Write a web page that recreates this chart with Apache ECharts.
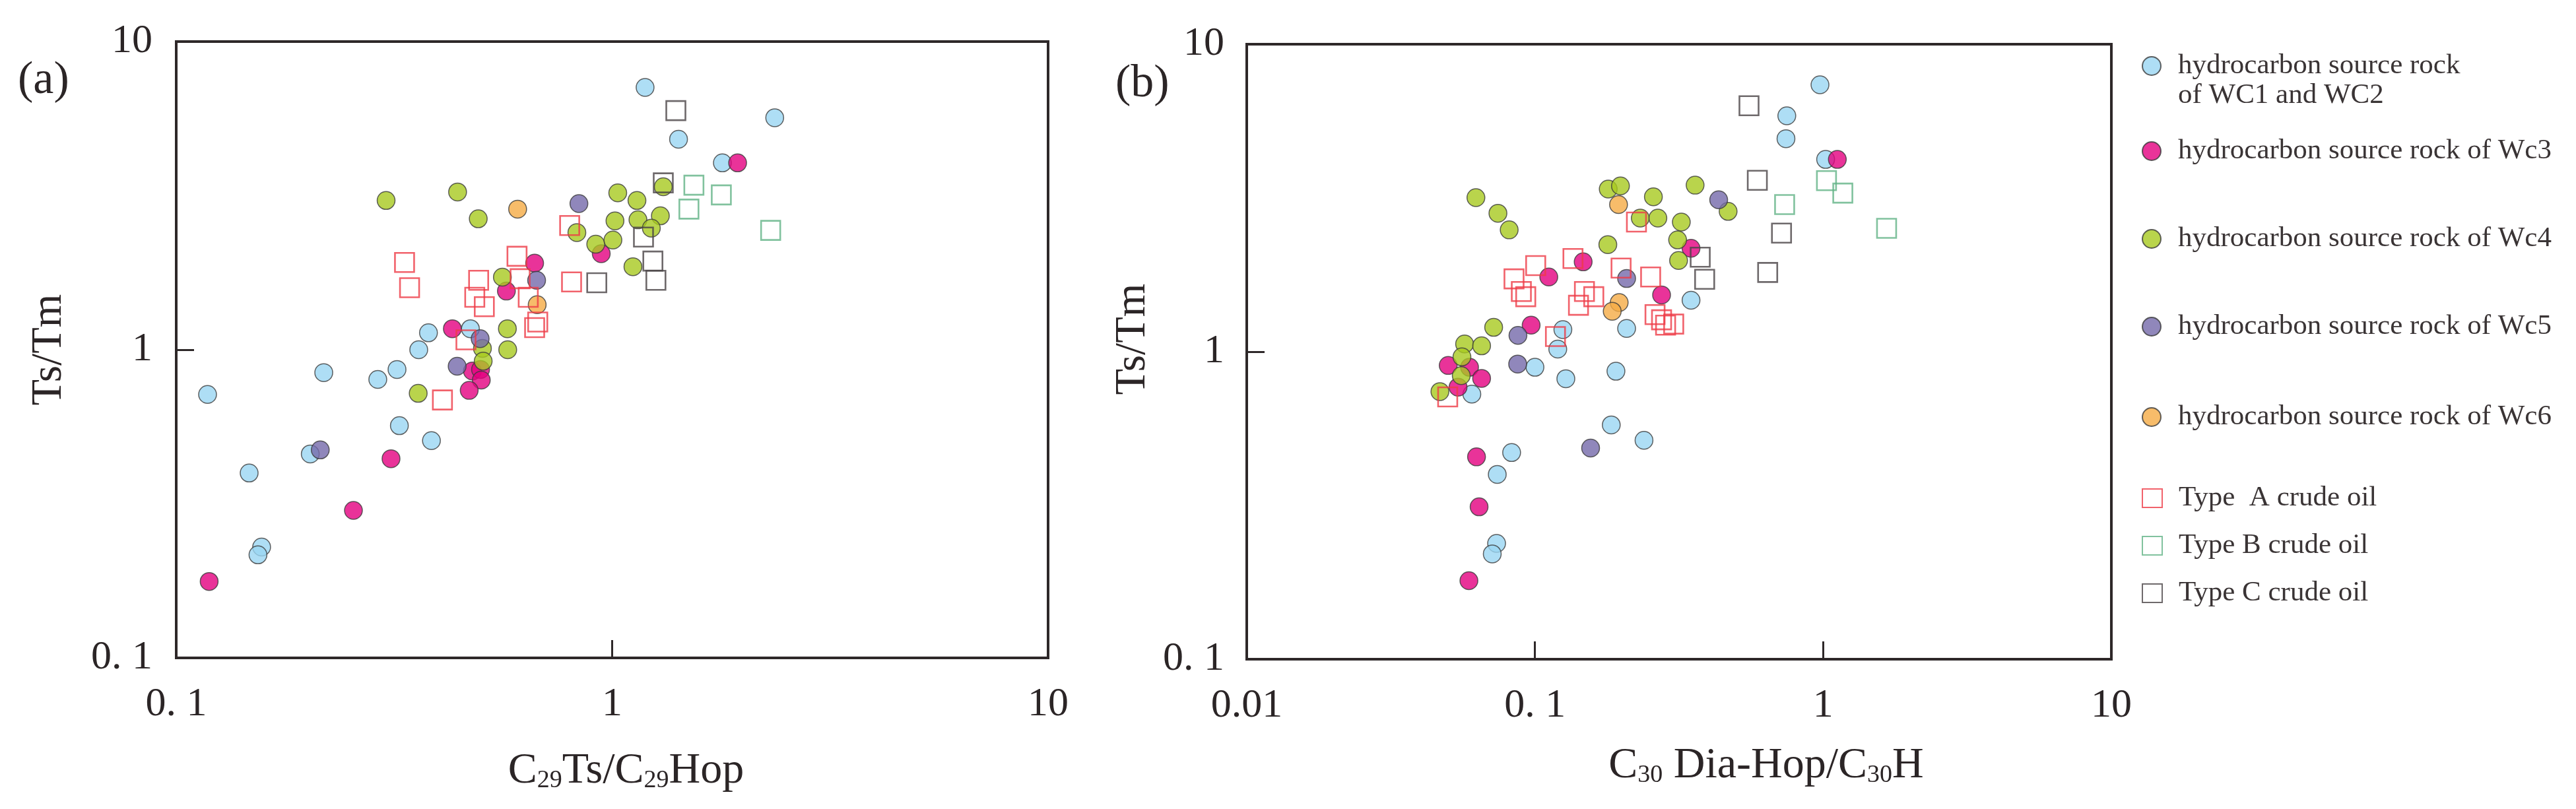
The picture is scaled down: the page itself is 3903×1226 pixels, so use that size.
<!DOCTYPE html>
<html>
<head>
<meta charset="utf-8">
<script src="https://cdn.jsdelivr.net/npm/echarts@6/dist/echarts.min.js"></script>
<style>
html, body { margin: 0; padding: 0; background: #fff; }
#main { width: 3903px; height: 1226px; }
</style>
</head>
<body>
<div id="main"></div>
<script>
// tick labels (as printed in the figure)
var ticksAx = ['0. 1', '1', '10'];
var ticksAy = ['0. 1', '1', '10'];
var ticksBx = ['0.01', '0. 1', '1', '10'];
var ticksBy = ['0. 1', '1', '10'];

var groupNames = [
    'hydrocarbon source rock of WC1 and WC2',
    'hydrocarbon source rock of Wc3',
    'hydrocarbon source rock of Wc4',
    'hydrocarbon source rock of Wc5',
    'hydrocarbon source rock of Wc6',
    'Type  A crude oil',
    'Type B crude oil',
    'Type C crude oil'
];

// (a) C29Ts/C29Hop vs Ts/Tm
var aWc12 = [[1.19, 7.1], [2.36, 5.66], [1.42, 4.82], [1.79, 4.04], [0.379, 1.135], [0.360, 1.0], [0.473, 1.17],
    [0.218, 0.843], [0.321, 0.863], [0.290, 0.801], [0.118, 0.716], [0.325, 0.567], [0.385, 0.507],
    [0.203, 0.459], [0.147, 0.398], [0.157, 0.229], [0.154, 0.216]];
var aWc3 = [[1.94, 4.04], [0.664, 1.91], [0.944, 2.05], [0.572, 1.55], [0.430, 1.17], [0.478, 0.853],
    [0.499, 0.863], [0.501, 0.797], [0.470, 0.738], [0.311, 0.443], [0.255, 0.301], [0.119, 0.177]];
var aWc4 = [[0.303, 3.05], [0.442, 3.25], [0.493, 2.66], [1.03, 3.23], [1.14, 3.05], [1.31, 3.38], [1.015, 2.62],
    [1.146, 2.64], [1.29, 2.72], [1.23, 2.48], [0.830, 2.40], [0.917, 2.20], [1.004, 2.27], [1.116, 1.86],
    [0.560, 1.72], [0.575, 1.17], [0.576, 1.0], [0.504, 1.01], [0.506, 0.918], [0.359, 0.722]];
var aWc5 = [[0.839, 2.98], [0.671, 1.68], [0.498, 1.086], [0.441, 0.884], [0.214, 0.473]];
var aWc6 = [[0.607, 2.86], [0.673, 1.40]];
var aOilA = [[0.799, 2.53], [0.334, 1.92], [0.343, 1.59], [0.605, 2.01], [0.494, 1.68], [0.484, 1.48], [0.509, 1.38],
    [0.615, 1.70], [0.642, 1.48], [0.807, 1.66], [0.675, 1.23], [0.664, 1.18], [0.462, 1.077], [0.408, 0.687]];
var aOilB = [[1.54, 3.42], [1.78, 3.18], [1.50, 2.86], [2.31, 2.44]];
var aOilC = [[1.40, 5.97], [1.31, 3.48], [1.18, 2.32], [1.24, 1.94], [1.26, 1.68], [0.922, 1.65]];

// (b) C30 Dia-Hop/C30H vs Ts/Tm
var bWc12 = [[0.975, 7.38], [0.748, 5.85], [0.743, 4.93], [1.02, 4.22], [0.348, 1.47], [0.125, 1.18], [0.208, 1.19],
    [0.120, 1.02], [0.100, 0.890], [0.128, 0.817], [0.191, 0.864], [0.0604, 0.728], [0.184, 0.578],
    [0.239, 0.515], [0.083, 0.47], [0.074, 0.399], [0.0736, 0.238], [0.0711, 0.220]];
var bWc3 = [[1.12, 4.22], [0.348, 2.17], [0.147, 1.96], [0.1117, 1.75], [0.275, 1.53], [0.097, 1.22], [0.050, 0.902],
    [0.0593, 0.890], [0.0653, 0.819], [0.0541, 0.767], [0.0627, 0.455], [0.064, 0.313], [0.059, 0.180]];
var bWc4 = [[0.0624, 3.17], [0.0744, 2.82], [0.0814, 2.49], [0.1796, 3.38], [0.198, 3.46], [0.2576, 3.19],
    [0.3595, 3.48], [0.232, 2.72], [0.267, 2.72], [0.322, 2.64], [0.468, 2.86], [0.3126, 2.31], [0.179, 2.23],
    [0.315, 1.98], [0.0719, 1.20], [0.057, 1.06], [0.0653, 1.045], [0.0558, 0.962], [0.0555, 0.836], [0.0468, 0.742]];
var bWc5 = [[0.434, 3.12], [0.208, 1.73], [0.0873, 1.13], [0.0871, 0.912], [0.156, 0.486]];
var bWc6 = [[0.195, 3.01], [0.196, 1.445], [0.1854, 1.354]];
var bOilA = [[0.225, 2.64], [0.1355, 2.01], [0.1006, 1.905], [0.199, 1.87], [0.252, 1.75], [0.0846, 1.725],
    [0.0897, 1.57], [0.0929, 1.51], [0.1485, 1.57], [0.160, 1.51], [0.1416, 1.416], [0.261, 1.32], [0.275, 1.27],
    [0.284, 1.22], [0.303, 1.23], [0.1178, 1.12], [0.0498, 0.713]];
var bOilB = [[1.027, 3.60], [1.17, 3.28], [0.735, 3.01], [1.66, 2.52]];
var bOilC = [[0.553, 6.31], [0.591, 3.61], [0.717, 2.43], [0.3745, 2.03], [0.388, 1.72], [0.642, 1.81]];

var serif = 'Liberation Serif';
var ink = '#2b2526';
var frame = '#2e2829';

var fills = ['#9ad6f2', '#e4007f', '#a7c91f', '#7469aa', '#f5ab45'];
var strokes = ['#ee3b46', '#62b386', '#4a4446'];

var myChart = echarts.init(document.getElementById('main'));

function logAxis(pos, gridIdx, min, max, labels, margin) {
    return {
        type: 'log',
        logBase: 10,
        gridIndex: gridIdx,
        position: pos,
        min: min,
        max: max,
        axisLine: { show: true, lineStyle: { color: frame, width: 4 } },
        axisTick: { show: true, inside: true, length: 27, lineStyle: { color: frame, width: 3 } },
        splitLine: { show: false },
        axisLabel: {
            margin: margin,
            showMinLabel: true,
            showMaxLabel: true,
            fontFamily: serif,
            fontSize: 62,
            color: ink,
            formatter: function (v) {
                return labels[Math.round(Math.log10(v) - Math.log10(min))];
            }
        }
    };
}

var xA = logAxis('bottom', 0, 0.1, 10, ticksAx, 40);
xA.name = '{m|C}{s|29}{m|Ts/C}{s|29}{m|Hop}';
xA.nameLocation = 'middle';
xA.nameGap = 125;
xA.nameTextStyle = {
    padding: [0, 0, 0, 42],
    rich: {
        m: { fontFamily: serif, fontSize: 66, color: ink, lineHeight: 80, verticalAlign: 'bottom' },
        s: { fontFamily: serif, fontSize: 38, color: ink, lineHeight: 34, verticalAlign: 'bottom' }
    }
};
var yA = logAxis('left', 0, 0.1, 10, ticksAy, 36);
yA.name = 'Ts/Tm';
yA.nameLocation = 'middle';
yA.nameGap = 160;
yA.nameTextStyle = { fontFamily: serif, fontSize: 65, color: ink };

var xB = logAxis('bottom', 1, 0.01, 10, ticksBx, 40);
xB.name = '{m|C}{s|30}{m| Dia-Hop/C}{s|30}{m|H}';
xB.nameLocation = 'middle';
xB.nameGap = 115;
xB.nameTextStyle = {
    padding: [0, 0, 0, 264],
    rich: {
        m: { fontFamily: serif, fontSize: 66, color: ink, lineHeight: 80, verticalAlign: 'bottom' },
        s: { fontFamily: serif, fontSize: 38, color: ink, lineHeight: 34, verticalAlign: 'bottom' }
    }
};
var yB = logAxis('left', 1, 0.1, 10, ticksBy, 34);
yB.name = 'Ts/Tm';
yB.nameLocation = 'middle';
yB.nameGap = 140;
yB.nameTextStyle = { fontFamily: serif, fontSize: 65, color: ink, padding: [0, 0, 0, 38] };

var panels = [
    [aWc12, aWc3, aWc4, aWc5, aWc6, aOilA, aOilB, aOilC],
    [bWc12, bWc3, bWc4, bWc5, bWc6, bOilA, bOilB, bOilC]
];

var series = [];
panels.forEach(function (sets, p) {
    sets.forEach(function (pts, i) {
        var isOil = i >= 5;
        series.push({
            name: groupNames[i],
            type: 'scatter',
            xAxisIndex: p,
            yAxisIndex: p,
            data: pts,
            symbol: isOil ? 'rect' : 'circle',
            symbolSize: isOil ? 29 : 27,
            z: isOil ? 3 : 2,
            itemStyle: isOil
                ? { color: 'rgba(255,255,255,0)', borderColor: strokes[i - 5], borderWidth: 2.6 }
                : { color: fills[i], borderColor: '#3b3b3b', borderWidth: 1.5 },
            emphasis: { disabled: true }
        });
    });
});

// one legend block per row, so the rows keep the figure's uneven spacing
var rowY = [100, 229, 362, 495, 632, 755, 827, 899];
var legends = groupNames.map(function (nm, i) {
    var twoLine = i === 0;
    return {
        data: [nm],
        orient: 'vertical',
        left: 3245,
        top: twoLine ? rowY[i] - 67.5 : rowY[i] - 22.5,
        padding: 0,
        itemWidth: 30,
        itemHeight: 28,
        selectedMode: false,
        formatter: function () {
            if (twoLine) {
                return '{g|}\n{g|}{t|hydrocarbon source rock}\n{g|}{t|of WC1 and WC2}';
            }
            return '{g|}{t|' + nm + '}';
        },
        textStyle: {
            rich: {
                g: { width: 20, height: 45, lineHeight: 45 },
                t: { fontFamily: serif, fontSize: 43, color: '#3a3435', lineHeight: 45 }
            }
        }
    };
});

var option = {
    animation: false,
    backgroundColor: '#ffffff',
    title: [
        { text: '(a)', left: 22, top: 83, textStyle: { fontFamily: serif, fontSize: 70, fontWeight: 'normal', color: ink } },
        { text: '(b)', left: 1685, top: 88, textStyle: { fontFamily: serif, fontSize: 70, fontWeight: 'normal', color: ink } }
    ],
    legend: legends,
    grid: [
        { left: 267, top: 63, width: 1321, height: 934, show: true, borderColor: frame, borderWidth: 4 },
        { left: 1889, top: 67, width: 1310, height: 932, show: true, borderColor: frame, borderWidth: 4 }
    ],
    xAxis: [xA, xB],
    yAxis: [yA, yB],
    series: series
};

myChart.setOption(option);
</script>
</body>
</html>
